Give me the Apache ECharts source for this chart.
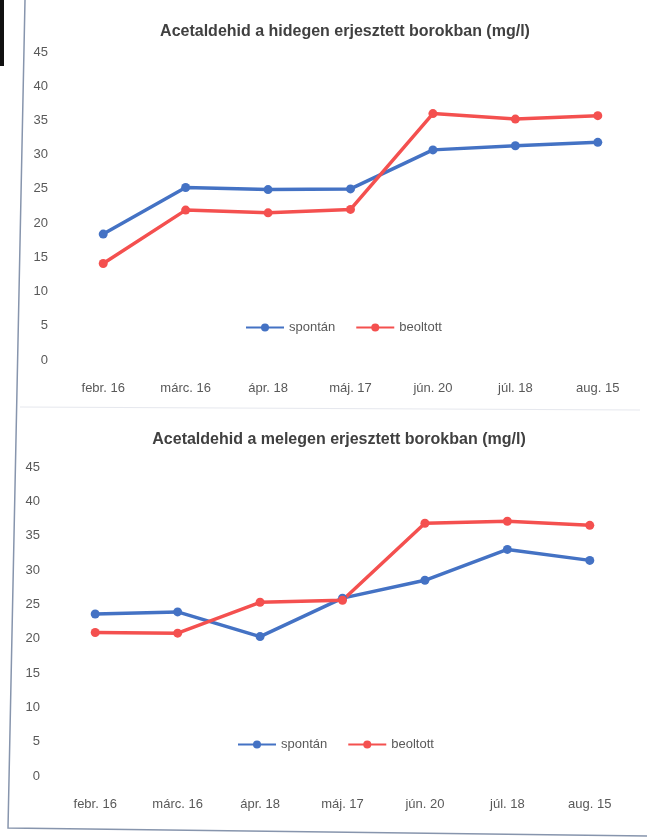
<!DOCTYPE html>
<html><head><meta charset="utf-8">
<script src="https://cdn.jsdelivr.net/npm/echarts@6/dist/echarts.min.js"></script>
<style>html,body{margin:0;padding:0;background:#fff}#c{width:647px;height:838px}</style>
</head><body><div id="c"></div>
<script>
const categories = ['febr. 16', 'márc. 16', 'ápr. 18', 'máj. 17', 'jún. 20', 'júl. 18', 'aug. 15'];
const yTicks = [0, 5, 10, 15, 20, 25, 30, 35, 40, 45];
const seriesNames = ['spontán', 'beoltott'];
const titleCold = 'Acetaldehid a hidegen erjesztett borokban (mg/l)';
const titleWarm = 'Acetaldehid a melegen erjesztett borokban (mg/l)';
const coldSpontan = [18.4, 25.2, 24.9, 25.0, 30.7, 31.3, 31.8];
const coldBeoltott = [14.1, 21.9, 21.5, 22.0, 36.0, 35.2, 35.7];
const warmSpontan = [23.6, 23.9, 20.3, 25.9, 28.5, 33.0, 31.4];
const warmBeoltott = [20.9, 20.8, 25.3, 25.6, 36.8, 37.1, 36.5];

const BLUE = '#4472c4', RED = '#f4504f';
const font = 'Liberation Sans, sans-serif';
function xAx(gi){return {type:'category', gridIndex:gi, data:categories, boundaryGap:true,
  axisLine:{show:false}, axisTick:{show:false},
  axisLabel:{color:'#595959', fontSize:13, fontFamily:font, margin:22, interval:0}};}
function yAx(gi){return {type:'value', gridIndex:gi, min:yTicks[0], max:yTicks[yTicks.length-1], interval:5,
  axisLine:{show:false}, axisTick:{show:false}, splitLine:{show:false},
  axisLabel:{color:'#595959', fontSize:13, fontFamily:font, margin:14}};}
function ser(name, data, color, gi){return {name, type:'line', data, xAxisIndex:gi, yAxisIndex:gi,
  symbol:'circle', symbolSize:9, lineStyle:{width:3.5, color}, itemStyle:{color}};}

const chart = echarts.init(document.getElementById('c'));
chart.setOption({
  backgroundColor:'#fff',
  animation:false,
  title:[
    {text:titleCold, left:340, top:19, textAlign:'center', textStyle:{fontFamily:font, fontSize:16, fontWeight:'bold', color:'#404040'}},
    {text:titleWarm, left:334, top:427, textAlign:'center', textStyle:{fontFamily:font, fontSize:16, fontWeight:'bold', color:'#404040'}}
  ],
  legend:[
    {data:seriesNames, left:240, top:316, itemWidth:38, itemHeight:10, itemGap:20,
      textStyle:{color:'#595959', fontSize:13, fontFamily:font}},
    {data:seriesNames, left:232, top:733, itemWidth:38, itemHeight:10, itemGap:20,
      textStyle:{color:'#595959', fontSize:13, fontFamily:font}}
  ],
  grid:[
    {left:62, right:8, top:52, height:308},
    {left:54, right:16, top:467, height:309}
  ],
  xAxis:[xAx(0), xAx(1)],
  yAxis:[yAx(0), yAx(1)],
  series:[
    ser(seriesNames[0], coldSpontan, BLUE, 0),
    ser(seriesNames[1], coldBeoltott, RED, 0),
    ser(seriesNames[0], warmSpontan, BLUE, 1),
    ser(seriesNames[1], warmBeoltott, RED, 1)
  ],
  graphic:[
    {type:'rect', shape:{x:0, y:0, width:4, height:66}, style:{fill:'#111'}},
    {type:'polyline', shape:{points:[[25,0],[8,828],[647,836]]}, style:{stroke:'#8795ad', lineWidth:1.5, fill:null}},
    {type:'line', shape:{x1:20, y1:407, x2:640, y2:410}, style:{stroke:'#e6e8ee', lineWidth:1}}
  ]
});
</script></body></html>
